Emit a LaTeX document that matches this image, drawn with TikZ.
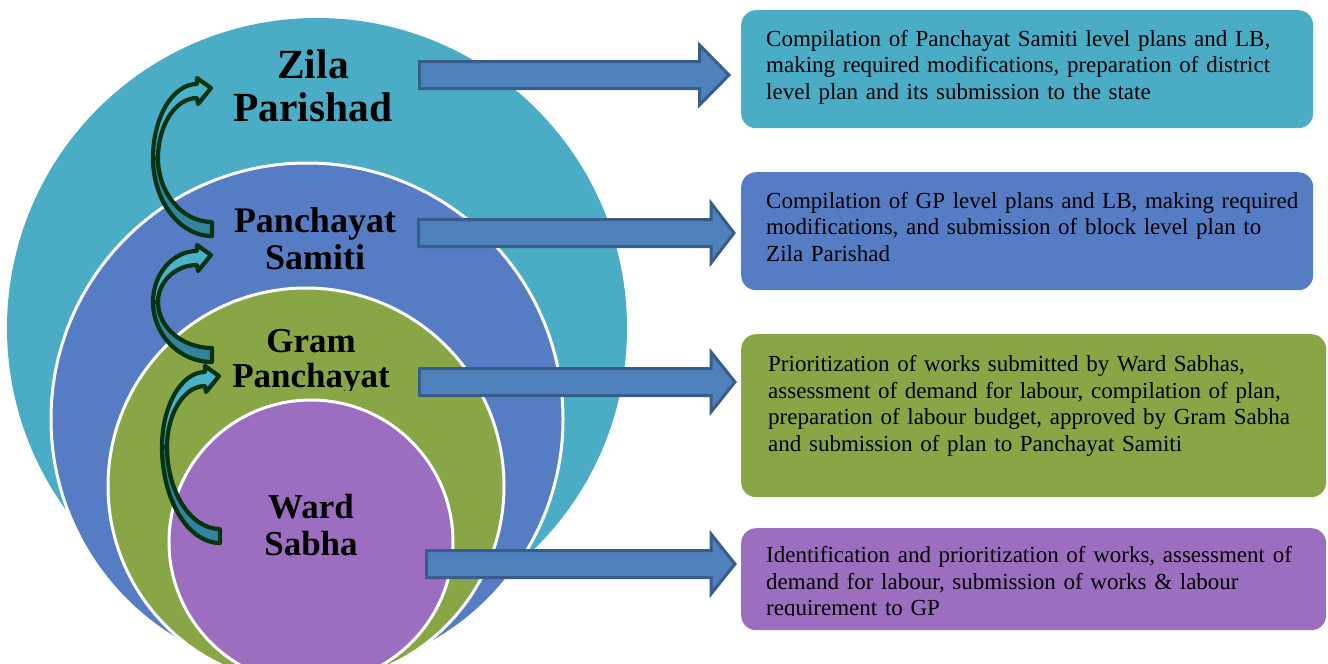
\documentclass[tikz,border=0pt]{standalone}
\usepackage{fontspec}
\setmainfont{Liberation Serif}
\definecolor{zteal}{RGB}{75,172,198}
\definecolor{sblue}{RGB}{86,125,196}
\definecolor{ggreen}{RGB}{136,166,69}
\definecolor{wpurple}{RGB}{156,110,192}
\definecolor{afill}{RGB}{79,129,189}
\definecolor{aedge}{RGB}{56,93,138}
\definecolor{cgreen}{RGB}{8,50,16}
\definecolor{tlight}{RGB}{75,178,204}
\definecolor{tdark}{RGB}{49,132,155}
\tikzset{
  ring/.style={draw=white, line width=3pt},
  blockarr/.style={draw=aedge, line width=3pt, fill=afill, line join=miter},
  curvarr/.style={draw=cgreen, line width=4.2pt, line join=round},
  rbox/.style={rectangle, rounded corners=15pt, inner sep=0pt, anchor=north west},
  boxtext/.style={anchor=north west, inner sep=0pt, text width=560pt, align=left,
    font=\fontsize{23}{26.6}\selectfont},
  lvl/.style={anchor=north, inner sep=0pt, text width=320pt, align=center}
}
\newcommand\curvarrow[5]{%
  \draw[curvarr, fill=tdark]
    (#4,#5) .. controls (#4,{#5+0.55*(#3+7-#5)}) and ({#1-0.55*(#1-#4)},{#3+7}) .. (#1,{#3+7})
    -- (#1,{#3-7})
    .. controls ({#1-0.55*(#1-#4-5)},{#3-7}) and ({#4+5},{#5+0.55*(#3-7-#5)}) .. ({#4+5},#5) -- cycle;
  \draw[curvarr, fill=tlight]
    ({#1-15},{#2-4}) .. controls ({#1-15-0.55*(#1-15-#4)},{#2-4}) and (#4,{#5-0.55*(#5-#2+4)}) .. (#4,#5)
    -- ({#4+5},#5)
    .. controls ({#4+5},{#5-0.55*(#5-#2-10)}) and ({#1-15-0.55*(#1-15-#4-5)},{#2+10}) .. ({#1-15},{#2+10})
    -- ({#1-14},{#2+16}) -- ({#1-1},#2) -- ({#1-15},{#2-10}) -- cycle;
}
\newcommand\blockarrow[4]{%
  \draw[blockarr] (#1,{#4-13.5}) -- (#2,{#4-13.5}) -- (#2,{#4-30}) -- (#3,#4)
    -- (#2,{#4+30}) -- (#2,{#4+13.5}) -- (#1,{#4+13.5}) -- cycle;
}
\begin{document}
\begin{tikzpicture}[x=1pt,y=-1pt]
\useasboundingbox (0,0) rectangle (1328,664);
\begin{scope}
  \clip (0,0) rectangle (1328,664);
  \fill[zteal] (317,328) circle (310pt);
  \draw[ring, fill=sblue] (307,419) circle (256pt);
  \draw[ring, fill=ggreen] (306,486) circle (198pt);
  \draw[ring, fill=wpurple] (311,542) circle (142pt);
\end{scope}

% curved arrows
\curvarrow{212}{88}{229}{153}{158}
\curvarrow{212}{255}{355}{153}{302}
\curvarrow{220}{376}{536}{162}{447}

% level labels
\node[lvl, font=\bfseries\fontsize{41.5}{43}\selectfont] (zp) at (313,48) {\rule{0pt}{30pt}Zila\\Parishad};
\node[lvl, font=\bfseries\fontsize{36}{37}\selectfont] (ps) at (315,206) {\rule{0pt}{26pt}Panchayat\\Samiti};
\begin{scope}
  \clip (150,300) rectangle (480,390);
  \node[lvl, font=\bfseries\fontsize{35}{35}\selectfont] (gp) at (311,326) {\rule{0pt}{26pt}Gram\\Panchayat};
\end{scope}
\node[lvl, font=\bfseries\fontsize{35}{37}\selectfont] (ws) at (311,492) {\rule{0pt}{26pt}Ward\\Sabha};

% block arrows
\blockarrow{419.5}{699.5}{729}{75}
\blockarrow{418.5}{711}{734}{233}
\blockarrow{419.5}{711}{735}{382}
\blockarrow{426.5}{711}{735}{564}

% boxes
\node[rbox, fill=zteal, minimum width=572pt, minimum height=118pt] (b1) at (741,10) {};
\node[rbox, fill=sblue, minimum width=572pt, minimum height=118pt] (b2) at (741,172) {};
\node[rbox, fill=ggreen, minimum width=585pt, minimum height=163pt] (b3) at (741,334) {};
\node[rbox, fill=wpurple, minimum width=585pt, minimum height=102pt] (b4) at (741,528) {};

\node[boxtext] (t1) at (766,30) {\rule{0pt}{16pt}Compilation of Panchayat Samiti level plans and LB,\\
making required modifications, preparation of district\\
level plan and its submission to the state};
\node[boxtext] (t2) at (766,192) {\rule{0pt}{16pt}Compilation of GP level plans and LB, making required\\
modifications, and submission of block level plan to\\
Zila Parishad};
\node[boxtext] (t3) at (768,355) {\rule{0pt}{16pt}\makebox[532pt][s]{Prioritization of works submitted by Ward Sabhas,}\\
\makebox[532pt][s]{assessment of demand for labour, compilation of plan,}\\
\makebox[532pt][s]{preparation of labour budget, approved by Gram Sabha}\\
and submission of plan to Panchayat Samiti};
\begin{scope}
  \clip (741,528) rectangle (1326,615);
  \node[boxtext] (t4) at (766,546) {\rule{0pt}{16pt}Identification and prioritization of works, assessment of\\
demand for labour, submission of works \& labour\\
requirement to GP};
\end{scope}
\end{tikzpicture}
\end{document}
